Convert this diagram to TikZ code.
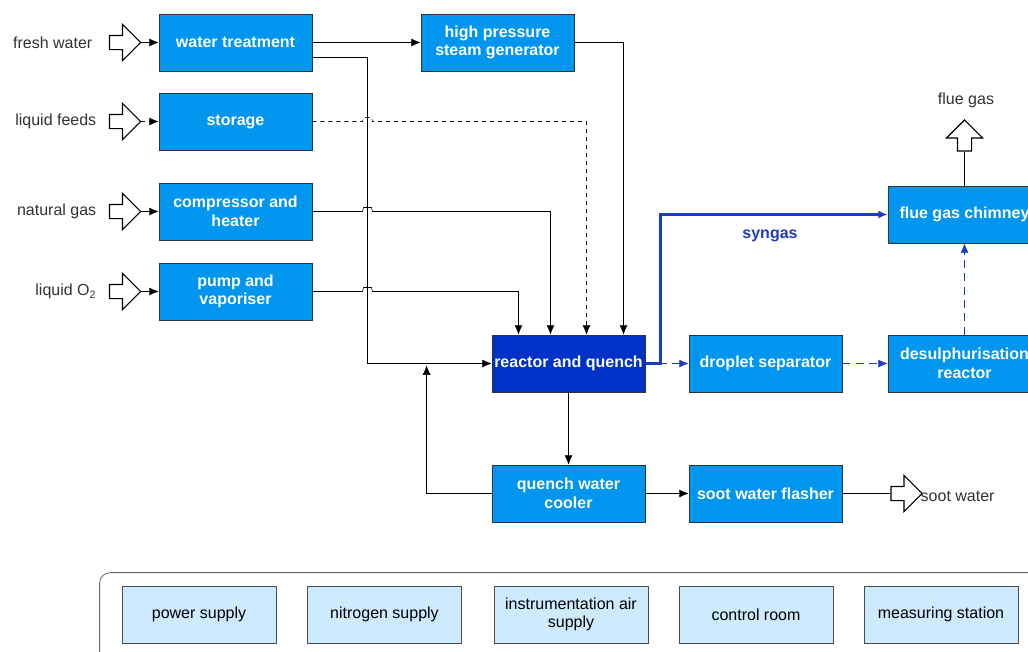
\documentclass[tikz,border=0pt]{standalone}
\usepackage{fontspec}
\setmainfont{Liberation Sans}
\usepackage{tikz}
\usetikzlibrary{backgrounds,fit,calc,shapes.arrows,arrows.meta}

\definecolor{unitblue}{RGB}{0,150,240}
\definecolor{reactorblue}{RGB}{0,50,200}
\definecolor{gasblue}{RGB}{30,60,195}
\definecolor{utilblue}{RGB}{205,234,255}
\definecolor{labelgray}{RGB}{50,50,50}

\begin{document}
\begin{tikzpicture}[x=0.75pt,y=-0.75pt,line width=1.1pt]
      \tikzstyle{unit} = [draw=black!80,line width=0.6pt,fill=unitblue,text=white,font=\fontsize{12}{14}\selectfont\bfseries,minimum width=114.75pt,minimum height=42.75pt,inner sep=0pt,align=center]
      \tikzstyle{utility} = [draw=black!70,line width=0.6pt,fill=utilblue,font=\fontsize{12}{14}\selectfont,minimum width=115.5pt,minimum height=42.75pt,inner sep=0pt,align=center]
      \tikzstyle{stream} = [text=labelgray,font=\fontsize{12}{14}\selectfont,inner sep=0pt]
      \tikzstyle{inlet} = [draw=black,line width=0.8pt,fill=white,shape=single arrow,single arrow head extend=8.25pt,minimum height=23.25pt,inner sep=4.875pt]
      \tikzstyle{flow} = [-{Latex[length=7pt,width=6pt]}]
      \tikzstyle{gas} = [flow,draw=gasblue,dashed,dash pattern=on 6pt off 4pt]
      \tikzstyle{surround} = [draw=black!60,line width=0.6pt,rounded corners=8pt,inner xsep=16.5pt,inner ysep=9.75pt]
      %
      \useasboundingbox (0,0) rectangle (1028,651);
      \clip (0,0) rectangle (1028,651);

      % Feed units.
      \node[unit] (wt) at (235.5,42.5) {water treatment};
      \node[unit] (hp) at (497.5,42.5) {high pressure\\steam generator};
      \node[unit] (st) at (235.5,121.5) {storage};
      \node[unit] (cmp) at (235.5,211.5) {compressor and\\heater};
      \node[unit] (pmp) at (235.5,291.5) {pump and\\vaporiser};

      % Reactor line.
      \node[unit,fill=reactorblue] (rq) at (568.5,363.5) {reactor and quench};
      \node[unit] (ds) at (765.5,363.5) {droplet separator};
      \node[unit] (dsr) at (964.5,363.5) {desulphurisation\\reactor};
      \node[unit] (fgc) at (964.5,214.5) {flue gas chimney};
      \node[unit] (qwc) at (568.5,493.5) {quench water\\cooler};
      \node[unit] (swf) at (765.5,493.5) {soot water flasher};

      % Inlets and outlets.
      \node[inlet] (fwin) at (121.5,42.5) {};
      \node[inlet] (lfin) at (121.5,121.5) {};
      \node[inlet] (ngin) at (121.5,211.5) {};
      \node[inlet] (oxin) at (121.5,291.5) {};
      \node[inlet,shape border rotate=90] (fgout) at (964.5,139) {};
      \node[inlet] (swout) at (903,493.5) {};

      \node[stream,anchor=east] (fw) at (93,42.5) {fresh water};
      \node[stream,anchor=east] (lf) at (97,121.5) {liquid feeds};
      \node[stream,anchor=east] (ng) at (97,211.5) {natural gas};
      \node[stream,anchor=east] (ox) at (97,291.5) {liquid O\textsubscript{2}};
      \node[stream] (fg) at (966,100) {flue gas};
      \node[stream,anchor=west] (sw) at (920,496) {soot water};
      \node[font=\fontsize{12}{14}\selectfont\bfseries,text=gasblue] (syn) at (770,236) {syngas};

      % Utilities.
      \node[utility] (ps) at (199,614.5) {power supply};
      \node[utility] (ns) at (384.5,614.5) {nitrogen supply};
      \node[utility] (ia) at (571,614.5) {instrumentation air\\supply};
      \node[utility] (cr) at (756,614.5) {control room};
      \node[utility] (ms) at (941,614.5) {measuring station};

      \coordinate (bus) at (367.5,0);
      \coordinate (framecorner) at ($(ms.south east)+(0,6)$);

      \begin{pgfonlayer}{background}
          % Draw utility frame.
          \node[surround] (frame) [fit = (ps) (ms) (framecorner)] {};
          % Draw feed lines.
          \draw[flow] (fwin.tip) -- (wt);
          \draw[flow,dashed] (lfin.tip) -- (st);
          \draw[flow] (ngin.tip) -- (cmp);
          \draw[flow] (oxin.tip) -- (pmp);
          \draw[flow] (wt.east) -- (hp.west);
          \draw[flow] ($(wt.east)+(0,15)$) -| (bus |- rq.west) -- (rq.west);
          \draw[flow] (hp.east) -| ($(rq.north)+(55,0)$);
          \draw[flow,dashed] (st.east) -- ($(st.east -| bus)+(-5,0)$) -- ++(1,-4) -- ++(8,0) -- ++(1,4) -| ($(rq.north)+(18,0)$);
          \draw[flow] (cmp.east) -- ($(cmp.east -| bus)+(-5,0)$) -- ++(1,-4) -- ++(8,0) -- ++(1,4) -| ($(rq.north)+(-18,0)$);
          \draw[flow] (pmp.east) -- ($(pmp.east -| bus)+(-5,0)$) -- ++(1,-4) -- ++(8,0) -- ++(1,4) -| ($(rq.north)+(-50,0)$);
          % Draw quench loop.
          \draw[flow] (rq.south) -- (qwc.north);
          \draw[flow] (qwc.west) -| ($(rq.west)+(-65,2)$);
          \draw[flow] (qwc.east) -- (swf.west);
          \draw (swf.east) -- (swout.tail);
          % Draw gas lines.
          \draw[flow,draw=gasblue,line width=2.2pt] (rq.east) -- ++(15,0) |- (fgc.west);
          \draw[gas] (rq.east) -- (ds.west);
          \draw[gas] (ds.east) -- (dsr.west);
          \draw[gas] (dsr.north) -- (fgc.south);
          \draw (fgc.north) -- (fgout.tail);
      \end{pgfonlayer}
      %
\end{tikzpicture}
\end{document}
